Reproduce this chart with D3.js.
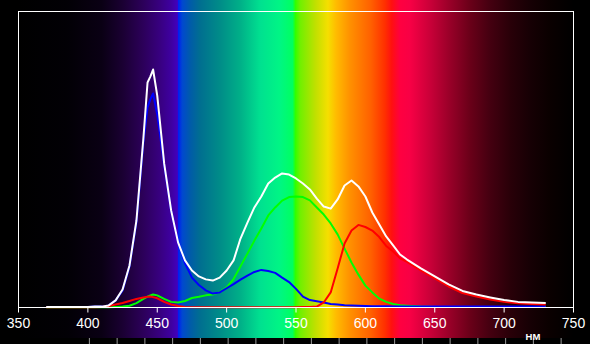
<!DOCTYPE html>
<html>
<head>
<meta charset="utf-8">
<script src="https://cdn.jsdelivr.net/npm/d3@7"></script>
<style>
  html, body { margin: 0; padding: 0; background: #000; overflow: hidden; }
</style>
</head>
<body>
<div id="chart"></div>
<script>
// wavelengths (nm) shared by all four curves
const wavelengths = [370, 380, 390, 400, 405, 410, 415, 420, 425, 430, 435, 440, 443, 445, 447,
  450, 455, 460, 465, 470, 475, 480, 485, 490, 495, 500, 505, 510, 515, 520, 525, 530, 535, 540,
  545, 550, 555, 560, 565, 570, 575, 580, 585, 590, 595, 600, 605, 610, 615, 620, 625, 630,
  640, 650, 660, 670, 680, 690, 700, 710, 720, 730];

const whiteValues = [0.2, 0.2, 0.2, 0.2, 0.3, 0.3, 0.7, 2.4, 6.1, 14.2, 29.4, 57.1, 76.0, 78.0, 80.4,
  71.6, 48.6, 32.8, 22.0, 15.9, 12.5, 10.5, 9.5, 9.1, 10.1, 12.5, 15.9, 23.3, 28.7, 33.8, 37.5, 41.9, 43.9, 45.3,
  44.9, 43.6, 41.9, 39.9, 36.8, 34.1, 33.4, 36.5, 41.2, 42.9, 40.9, 37.5, 32.1, 28.0, 24.0, 21.0, 17.9, 16.2,
  13.2, 10.5, 7.8, 5.6, 4.4, 3.4, 2.5, 1.9, 1.7, 1.5];

const blueValues = [0.2, 0.2, 0.2, 0.2, 0.3, 0.3, 0.7, 2.4, 5.7, 13.9, 28.7, 55.7, 67.6, 70.3, 72.3,
  65.2, 48.0, 32.8, 22.3, 14.9, 10.1, 7.6, 5.8, 4.7, 5.1, 6.5, 7.9, 9.4, 10.8, 12.0, 12.7, 12.3, 11.7, 10.1,
  8.6, 6.3, 3.7, 2.5, 2.1, 1.7, 1.2, 1.0, 0.8, 0.7, 0.6, 0.5, 0.4, 0.4, 0.4, 0.3, 0.3, 0.3,
  0.3, 0.3, 0.3, 0.3, 0.3, 0.3, 0.3, 0.3, 0.3, 0.3];

const greenValues = [0.1, 0.1, 0.1, 0.1, 0.1, 0.1, 0.1, 0.2, 0.3, 0.6, 1.5, 2.9, 3.7, 4.1, 4.4,
  4.1, 2.9, 1.9, 1.7, 2.2, 3.2, 3.6, 4.1, 4.4, 5.2, 6.8, 9.6, 13.9, 18.2, 22.6, 26.7, 31.1, 33.8, 36.1,
  37.3, 37.5, 37.3, 36.2, 33.8, 31.4, 28.4, 24.7, 19.9, 15.2, 11.1, 7.4, 5.1, 3.0, 1.9, 1.2, 0.8, 0.6,
  0.3, 0.2, 0.2, 0.2, 0.2, 0.2, 0.2, 0.2, 0.2, 0.2];

const redValues = [0.1, 0.1, 0.1, 0.1, 0.1, 0.2, 0.5, 1.0, 1.5, 2.2, 2.9, 3.4, 3.6, 3.7, 3.5,
  3.1, 1.9, 1.0, 0.5, 0.2, 0.1, 0.1, 0.1, 0.1, 0.1, 0.1, 0.1, 0.1, 0.1, 0.1, 0.1, 0.1, 0.1, 0.1,
  0.1, 0.1, 0.2, 0.2, 0.3, 1.7, 5.1, 13.2, 21.6, 26.0, 27.9, 27.2, 26.0, 23.8, 20.8, 18.9, 16.6, 15.4,
  12.5, 9.8, 7.1, 4.9, 3.7, 2.7, 1.9, 1.4, 1.2, 1.0];

const tickLabels = [350, 400, 450, 500, 550, 600, 650, 700, 750];
const minorTicks = [400, 420, 440, 460, 480, 500, 520, 540, 560, 580, 600, 620, 640, 660, 680, 700, 720, 740];

// spectrum behind the plot: wavelength -> colour
const spectrumNm = [350, 385, 410, 425, 440, 452, 460, 464.5, 465.3, 468, 474, 481, 496, 510, 524, 538,
  547.5, 549.6, 553, 564, 573, 579, 589, 604, 614, 619, 625, 632, 647, 661, 676, 690, 705, 719, 733, 750];
const spectrumColors = ["#000000", "#020005", "#0a0014", "#1a0032", "#2c005a", "#380080", "#3e00a0", "#4200bc",
  "#0020f0", "#0048d0", "#005ca8", "#006f90", "#008e88", "#00b088", "#00e090", "#00f585",
  "#00ff60", "#30ff00", "#70f000", "#c0e000", "#f5df00", "#ffbb00", "#ff9000", "#ff6000", "#ff3000",
  "#ff1010", "#ff0040", "#f80045", "#c80038", "#980028", "#680018", "#440010", "#280008", "#160004",
  "#0a0000", "#000000"];

const W = 590, H = 344;
const margin = { top: 11.5, right: 16.5, bottom: 36.5, left: 18.5 };

const svg = d3.select("#chart")
  .append("svg")
  .attr("width", W)
  .attr("height", H)
  .style("display", "block")
  .style("background", "#000");

const x = d3.scaleLinear()
  .domain([350, 750])
  .range([margin.left, W - margin.right]);

const y = d3.scaleLinear()
  .domain([0, 100])
  .range([H - margin.bottom, margin.top]);

// background spectrum
const grad = svg.append("defs").append("linearGradient")
  .attr("id", "spectrum")
  .attr("gradientUnits", "userSpaceOnUse")
  .attr("x1", 0).attr("x2", W)
  .attr("y1", 0).attr("y2", 0);

grad.selectAll("stop")
  .data(spectrumNm)
  .join("stop")
  .attr("offset", d => x(d) / W)
  .attr("stop-color", (d, i) => spectrumColors[i]);

svg.append("rect")
  .attr("x", 0).attr("y", 0)
  .attr("width", W).attr("height", 338)
  .attr("fill", "url(#spectrum)");

// curves
const line = d3.line()
  .x((d, i) => x(wavelengths[i]))
  .y(d => y(d));

const series = [
  { values: greenValues, color: "#00ff00" },
  { values: blueValues, color: "#0000ff" },
  { values: redValues, color: "#ff0000" },
  { values: whiteValues, color: "#ffffff" }
];

svg.selectAll("path.curve")
  .data(series)
  .join("path")
  .attr("class", "curve")
  .attr("fill", "none")
  .attr("stroke", d => d.color)
  .attr("stroke-width", 2)
  .attr("stroke-linejoin", "round")
  .attr("d", d => line(d.values));

// frame
svg.append("rect")
  .attr("x", x(350)).attr("y", y(100))
  .attr("width", x(750) - x(350))
  .attr("height", y(0) - y(100))
  .attr("fill", "none")
  .attr("stroke", "#fff")
  .attr("stroke-width", 1);

// labelled axis
const xAxis = svg.append("g")
  .attr("transform", `translate(-0.5, ${y(0)})`)
  .call(d3.axisBottom(x).tickValues(tickLabels).tickSize(5).tickPadding(6).tickFormat(d3.format("d")));
xAxis.select(".domain").remove();
xAxis.selectAll("line").attr("stroke", "#fff");
xAxis.selectAll("text")
  .attr("fill", "#fff")
  .style("font-family", "'Liberation Sans', Arial, sans-serif")
  .style("font-size", "14px");

// small ticks along the bottom edge
const minorAxis = svg.append("g")
  .attr("transform", "translate(1, 338)")
  .call(d3.axisBottom(x).tickValues(minorTicks).tickSize(6).tickFormat(""));
minorAxis.select(".domain").remove();
minorAxis.selectAll("line").attr("stroke", "#9a9a9a");

svg.append("text")
  .attr("x", 533)
  .attr("y", 339.5)
  .attr("text-anchor", "middle")
  .attr("fill", "#fff")
  .style("font-family", "'Liberation Sans', Arial, sans-serif")
  .style("font-size", "9.5px")
  .style("font-weight", "bold")
  .text("НМ");
</script>
</body>
</html>
